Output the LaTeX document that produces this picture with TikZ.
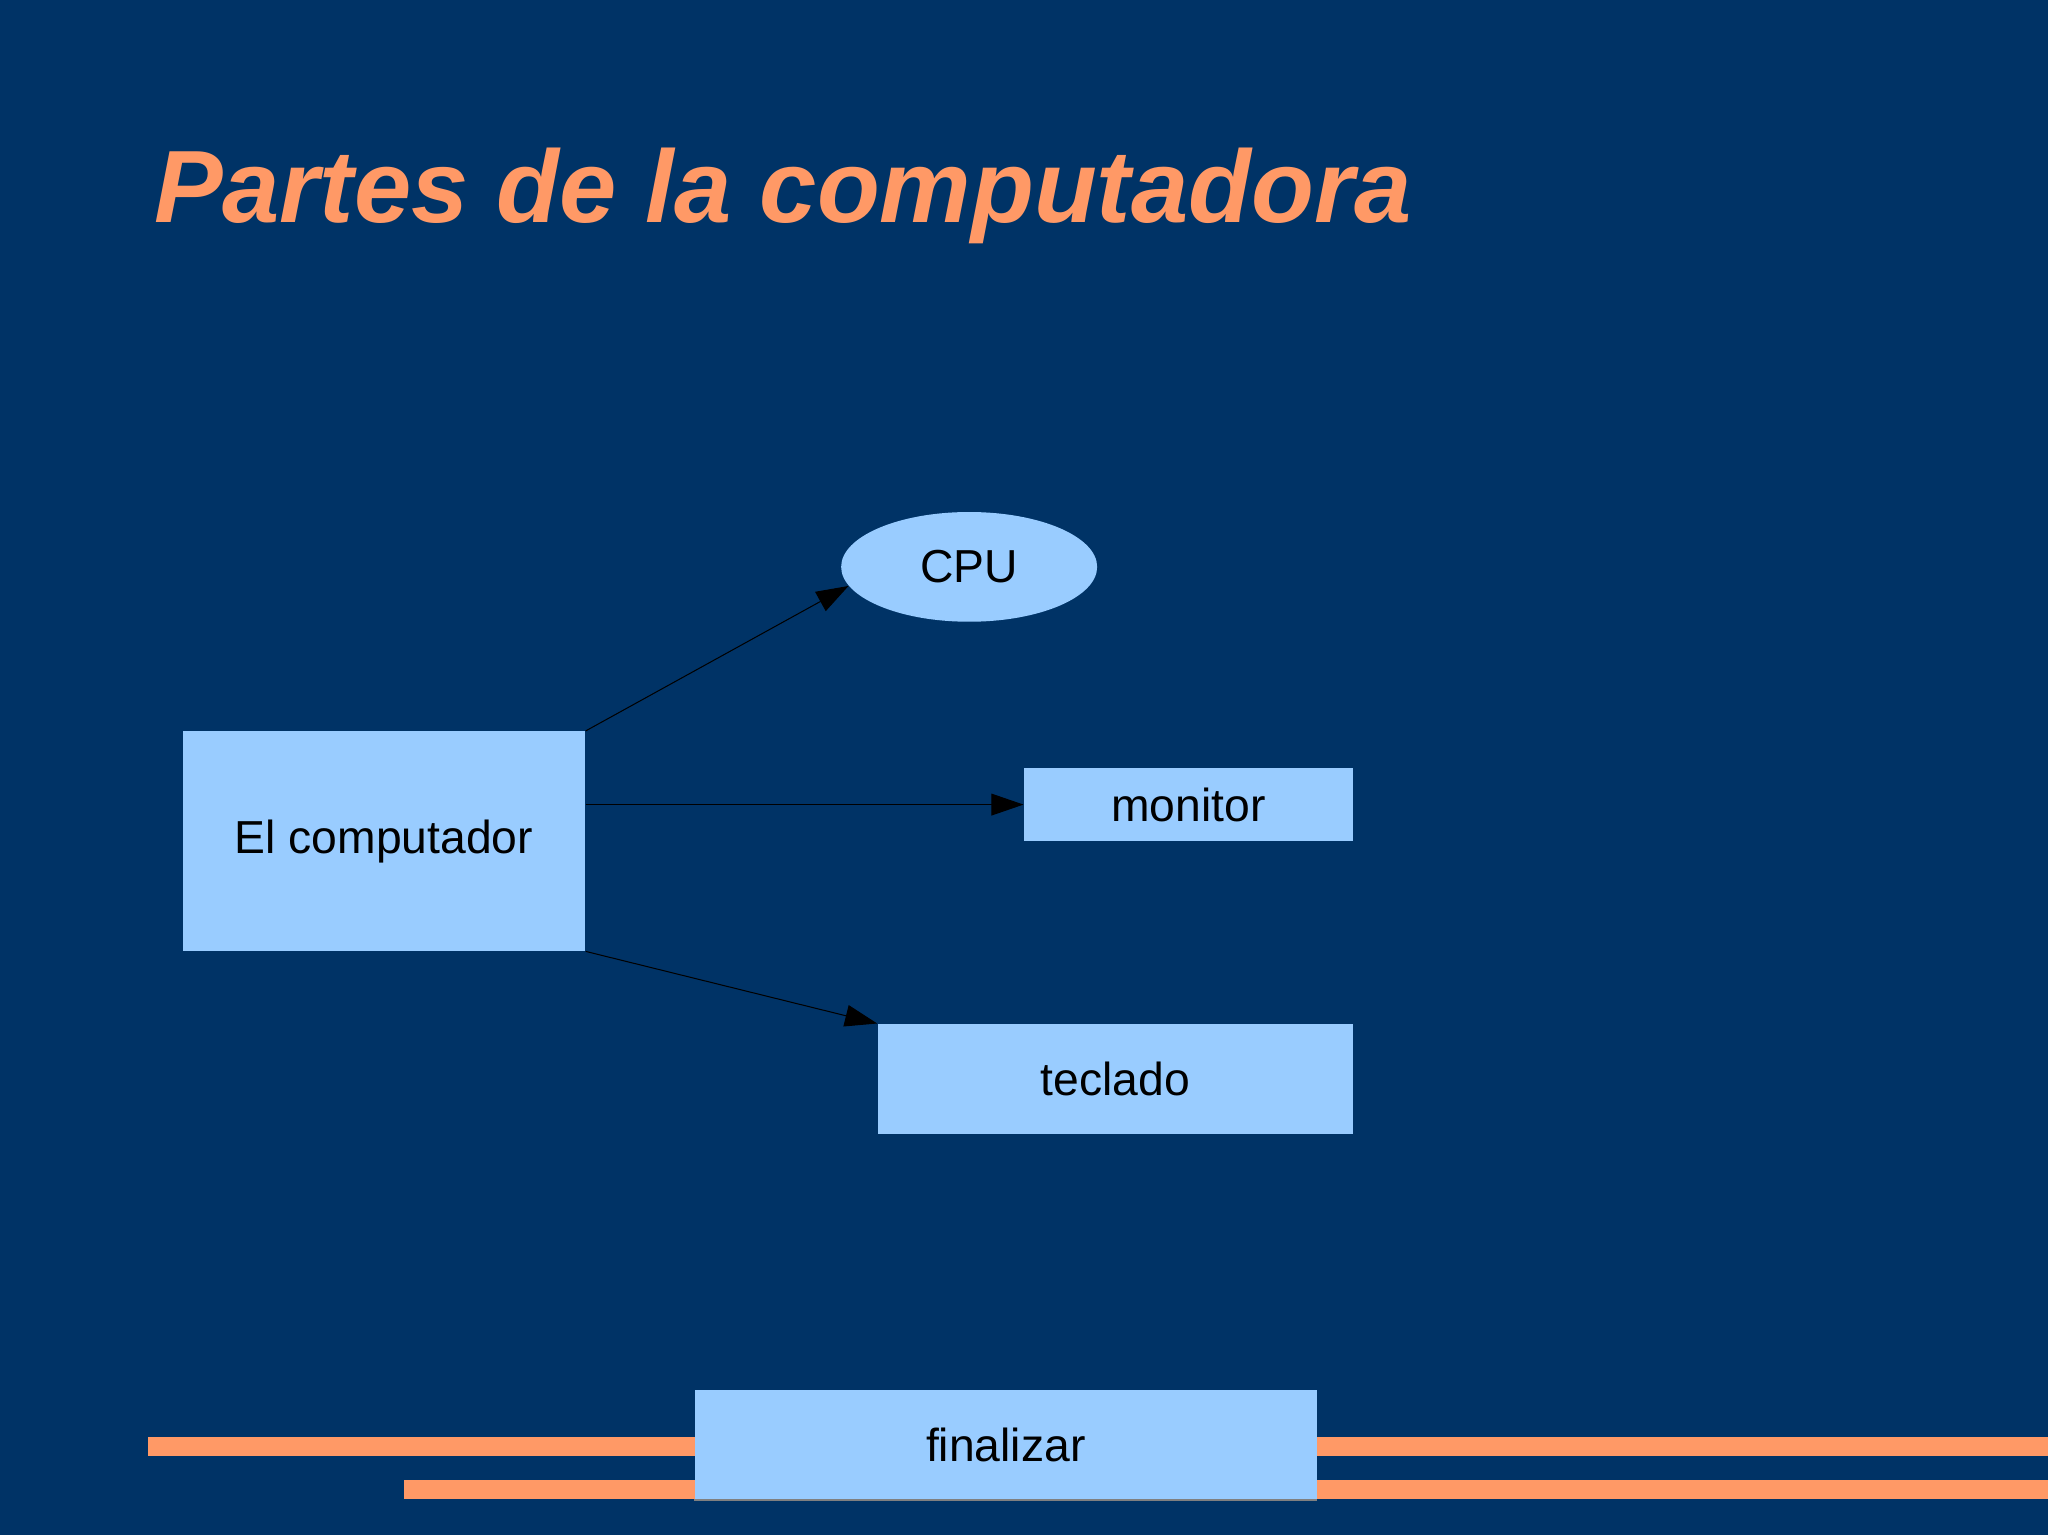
\documentclass[tikz,border=0pt]{standalone}
\usepackage{fontspec}
\setmainfont{Liberation Sans}
\usetikzlibrary{shapes.geometric,arrows.meta}
\definecolor{fondo}{HTML}{003366}
\definecolor{naranja}{HTML}{FF9966}
\definecolor{celeste}{HTML}{99CCFF}
\begin{document}
\begin{tikzpicture}[x=1cm, y=-1cm, >={Triangle[length=12.5pt,width=8.5pt]},
        caja/.style={fill=celeste, inner sep=0pt, font=\fontsize{18}{21}\selectfont},
        flecha/.style={thin, ->}]
        \fill[fondo] (0,0) rectangle (28,20.986);
        \node[anchor=base west, inner sep=0pt, text=naranja, font=\fontsize{40}{48}\selectfont\bfseries\itshape] (titulo) at (2.1,3.04) {Partes de la computadora};
        % barras de abajo
        \fill[naranja] (2.02,19.65) rectangle (28,19.9);
        \fill[naranja] (5.52,20.24) rectangle (28,20.49);

        \node[caja, minimum width=5.5cm, minimum height=3cm] (comp) at (5.25,11.5) {El computador};
        \node[caja, ellipse, minimum width=3.5cm, minimum height=1.5cm] (cpu) at (13.25,7.75) {CPU};
        \node[caja, minimum width=4.5cm, minimum height=1cm] (mon) at (16.25,11) {monitor};
        \node[caja, minimum width=6.5cm, minimum height=1.5cm] (tec) at (15.25,14.75) {teclado};
        \node[caja, minimum width=8.5cm, minimum height=1.5cm] (fin) at (13.75,19.75) {finalizar};
        \draw[gray, line width=1pt] (fin.south west)--(fin.south east);

        \draw[flecha] (comp.north east)--(cpu.189);
        \draw[flecha] (comp.east |- mon.west)--(mon.west);
        \draw[flecha] (comp.south east)--(tec.north west);
\end{tikzpicture}
\end{document}
